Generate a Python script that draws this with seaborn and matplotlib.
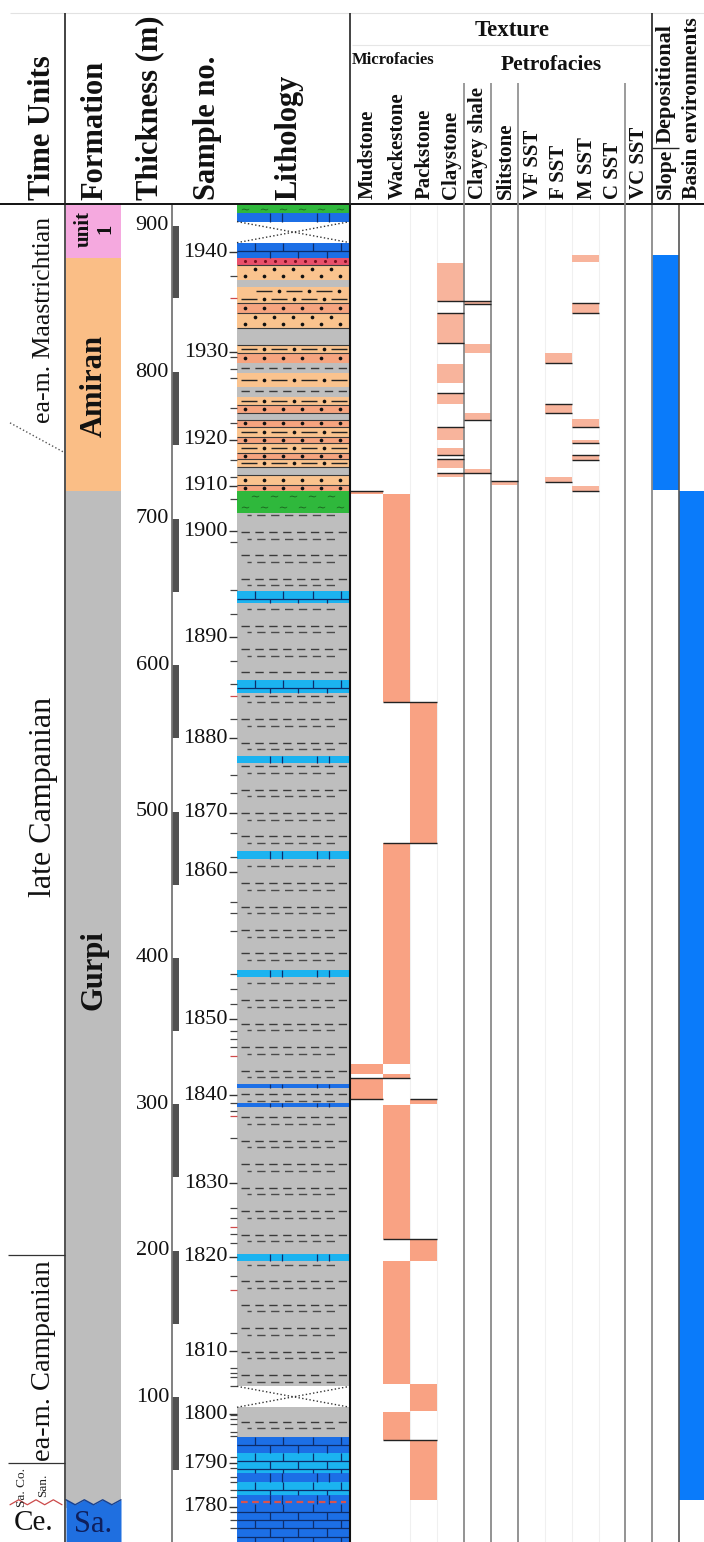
import numpy as np
import pandas as pd
import matplotlib
matplotlib.use("Agg")
import matplotlib.pyplot as plt
import seaborn as sns

# ------------------------------------------------------------------ data
thickness_ticks = [100, 200, 300, 400, 500, 600, 700, 800, 900]

sample_numbers = [1780, 1790, 1800, 1810, 1820, 1830, 1840, 1850, 1860,
                  1870, 1880, 1890, 1900, 1910, 1920, 1930, 1940]
sample_depths = [24.9, 54.9, 88.4, 131.4, 195.7, 246.2, 306.3, 358.2, 458.7,
                 499.0, 550.2, 619.2, 691.6, 722.4, 753.8, 813.9, 882.2]
sample_minor_ticks = [865.9, 810.6, 802.4, 796.3, 775.8, 765.5, 740.3, 728.6,
                      713.6, 684.2, 651.4, 635.0, 602.9, 587.2, 563.3, 525.1,
                      512.8, 485.5, 469.1, 438.4, 430.8, 418.5, 389.0, 378.8,
                      368.5, 350.1, 344.6, 339.1, 300.9, 295.4, 277.0, 229.2,
                      222.3, 211.4, 205.3, 182.7, 143.7, 119.8, 116.4, 113.6,
                      107.5, 87.7, 85.0, 81.6, 76.1, 73.4, 59.0, 51.5, 45.4,
                      42.0, 36.5, 31.7, 21.5, 16.0, 10.5]
sample_minor_red = [850.9, 579.0, 333.0, 292.0, 216.2, 173.2]

sample_bar_top = [900, 800, 700, 600, 500, 400, 300, 200, 100]
sample_bar_base = [851, 750.5, 650, 550, 450, 350, 250, 150, 50]

formation_names = ["unit\n1", "Amiran", "Gurpi", "Sa."]
formation_top = [914.3, 878, 719, 24]
formation_base = [878, 719, 24, 1]
formation_colors = ["#F5A9DF", "#FABE86", "#BDBDBD", "#1F6FE0"]
formation_label_y = [898, 791, 392, 13]
formation_label_size = [15, 22, 22, 22]

time_labels = ["ea-m. Maastrichtian", "late Campanian", "ea-m. Campanian"]
time_label_y = [835.8, 510, 125]
time_label_size = [18.5, 23, 20.5]
time_boundaries = [196.9, 54.9]

# lithology column (top of each layer, metres; each layer ends at the next top)
litho_top = [914.3, 909, 903, 888.6, 878, 873.5, 863, 858, 847.6, 840.7, 830.5,
             818.9, 813, 806.5, 799.7, 790, 783, 778, 772, 767.6, 763, 756, 752,
             745, 741, 735.5, 730, 723, 719, 704, 650.7, 642.5, 590, 581, 538,
             533, 473, 467.5, 391.7, 386.9, 314, 311, 300.7, 298, 198, 193,
             107.3, 93, 73, 61.5, 48, 41.7, 32.8, 29.4, 26.7]
litho_type = ["marl", "lime", "gap", "lime", "red", "sd", "shale", "sdd", "ss",
              "sd", "gray", "sdd", "ss", "shale", "sdd", "shale", "sdd", "ss",
              "gray", "ss", "sdd", "ss", "sdd", "ss", "sdd", "gray", "sd", "ss",
              "marl", "shale", "alime", "shale", "alime", "shale", "alime",
              "shale", "alime", "shale", "alime", "shale", "lime", "shale",
              "lime", "shale", "alime", "shale", "gap", "shale", "lime", "alime",
              "lime", "alime", "lime", "limer", "lime"]
litho_bottom = 1.0

# texture columns: (top, base) intervals in metres
mudstone = [(719, 717), (327.4, 321), (318, 303.5)]
wackestone = [(717, 575), (478.5, 327.4), (321, 318), (299.4, 207.8),
              (192.8, 109), (89.5, 70.4)]
packstone = [(575, 478.5), (303.5, 300), (207.8, 192.8), (109, 90.2),
             (70.4, 29.4)]
claystone = [(875, 849), (840.7, 820), (806, 793), (786, 778.5), (763, 754),
             (748, 743.7), (741, 735), (731.4, 728.6)]
clayey_shale = [(849, 847), (819.5, 813.4), (772, 767.6), (734, 731.4)]
slitstone = [(726, 723)]
vf_sst = []
f_sst = [(813, 806.6), (778.5, 772.4), (728.6, 725)]
m_sst = [(880, 875.6), (847.6, 840.7), (768, 763), (754, 752), (743.7, 740.4),
         (722.5, 719)]
c_sst = []
vc_sst = []
slope_env = [(880.4, 719.8)]
basin_env = [(719, 29.4)]

# black contact lines on the texture columns: (depth, first column, last column)
texture_contacts = [(719, 0, 0), (575, 1, 2), (478.5, 1, 2), (318, 0, 1),
                    (303.5, 0, 0), (303.5, 2, 2), (207.8, 1, 2), (70.4, 1, 2),
                    (849, 3, 4), (847, 4, 4), (840.7, 3, 3), (820, 3, 3),
                    (786, 3, 3), (763, 3, 3), (743.7, 3, 3), (741, 3, 3),
                    (731.4, 3, 4), (767.6, 4, 4), (726, 5, 5), (806.6, 7, 7),
                    (778.5, 7, 7), (772.4, 7, 7), (725, 7, 7), (847.6, 8, 8),
                    (840.7, 8, 8), (763, 8, 8), (752, 8, 8), (743.7, 8, 8),
                    (740.4, 8, 8), (719, 8, 8)]

texture_labels = ["Mudstone", "Wackestone", "Packstone", "Claystone",
                  "Clayey shale", "Slitstone", "VF SST", "F SST", "M SST",
                  "C SST", "VC SST"]

# ------------------------------------------------------------------ layout / style
sns.set_theme(style="white")
plt.rcParams["font.family"] = ["Liberation Serif", "DejaVu Serif"]
plt.rcParams["mathtext.fontset"] = "dejavuserif"

W, H, HEAD = 704, 1542, 205
PX_PER_M, ZERO_PX = 1.4638, 1543.4
Y_TOP = (ZERO_PX - HEAD) / PX_PER_M
Y_BOT = (ZERO_PX - H) / PX_PER_M

X_TIME = (0, 65)
X_FORM = (66, 121)
X_THICK = 172
X_SBAR = (172, 179)
X_STICK = (229, 237)
X_LITH = (237, 350)
TEX_EDGES = [350, 383, 410, 437, 464, 491, 518, 545, 572, 599, 625, 652, 679, 704]

C_TEX_MICRO = "#F9A283"
C_TEX_PETRO = "#F8B49C"
C_ENV = "#0A7BFA"
litho_colors = {"marl": "#2FB83C", "lime": "#1C6FE6", "alime": "#1BB3F0",
                "gap": "#FFFFFF", "red": "#E9506B", "sd": "#FAC38E",
                "sdd": "#FAC38E", "ss": "#F6A47F", "shale": "#BEBEBE",
                "gray": "#BEBEBE", "limer": "#1C6FE6"}

fig = plt.figure(figsize=(W / 100, H / 100), dpi=100, facecolor="white")
ax = fig.add_axes([0, 0, 1, (H - HEAD) / H])
hx = fig.add_axes([0, (H - HEAD) / H, 1, HEAD / H])
for a in (ax, hx):
    a.set_facecolor("white")
    a.axis("off")
ax.set_xlim(0, W)
ax.set_ylim(Y_BOT, Y_TOP)
hx.set_xlim(0, W)
hx.set_ylim(HEAD, 0)

# ------------------------------------------------------------------ formation column
fcx, fw = (X_FORM[0] + X_FORM[1]) / 2, X_FORM[1] - X_FORM[0]
for i in range(3):
    ax.bar(fcx, formation_top[i] - formation_base[i], bottom=formation_base[i],
           width=fw, color=formation_colors[i], linewidth=0, zorder=1)
xw = np.linspace(X_FORM[0], X_FORM[1], 7)
yw = np.where(np.arange(7) % 2 == 0, 29.8, 26.4)
ax.fill_between(xw, Y_BOT, yw, color=formation_colors[3], linewidth=0, zorder=2)
ax.plot(xw, yw, color="#17408f", lw=1, zorder=3)
for i, name in enumerate(formation_names):
    if name == "Sa.":
        ax.text(fcx, formation_label_y[i], name, ha="center", va="center",
                fontsize=22, color="#0f1f5c", zorder=5)
    else:
        ax.text(fcx + 1, formation_label_y[i], name, ha="center", va="center",
                rotation=90, fontsize=formation_label_size[i],
                fontweight="bold", color="#111111", linespacing=1.15, zorder=5)

# ------------------------------------------------------------------ time units column
tcx = 44
for lab, y, fs in zip(time_labels, time_label_y, time_label_size):
    ax.text(tcx, y, lab, rotation=90, ha="center", va="center", fontsize=fs,
            color="#111111")
ax.hlines(time_boundaries, 8, X_TIME[1], color="#333333", lw=0.9)
ax.plot([10, 65], [765.5, 745.0], ls=":", color="#555555", lw=1)
ax.text(22, 38.5, "Sa. Co.", rotation=90, ha="center", va="center",
        fontsize=9.5, color="#222222")
ax.text(43, 40, "San.", rotation=90, ha="center", va="center", fontsize=9.5,
        color="#222222")
xz = np.linspace(10, 62, 7)
ax.plot(xz, np.where(np.arange(7) % 2 == 0, 26.4, 29.8), color="#cc4a4a", lw=0.9)
ax.text(34, 14, "Ce.", ha="center", va="center", fontsize=21, color="#111111")

# ------------------------------------------------------------------ thickness + samples
ax.vlines(X_THICK, Y_BOT, Y_TOP, color="#777777", lw=1.3)
for t in thickness_ticks:
    ax.text(X_THICK - 3, t, str(t), ha="right", va="center", fontsize=16,
            color="#111111")
sbx = (X_SBAR[0] + X_SBAR[1]) / 2
ax.bar(sbx, np.array(sample_bar_top) - np.array(sample_bar_base),
       bottom=sample_bar_base, width=X_SBAR[1] - X_SBAR[0], color="#515151",
       linewidth=0)
for n, d in zip(sample_numbers, sample_depths):
    ax.text(X_STICK[0] - 1, d, str(n), ha="right", va="center", fontsize=16,
            color="#111111")
ax.hlines(sample_depths, X_STICK[0], X_STICK[1], color="#333333", lw=1)
ax.hlines(sample_minor_ticks, X_STICK[0] + 1, X_STICK[1], color="#444444", lw=0.9)
ax.hlines(sample_minor_red, X_STICK[0] + 1, X_STICK[1], color="#d04a4a", lw=0.9)

# ------------------------------------------------------------------ lithology
litho_base = litho_top[1:] + [litho_bottom]
lcx, lw_ = (X_LITH[0] + X_LITH[1]) / 2, X_LITH[1] - X_LITH[0]
ax.bar(lcx, np.array(litho_top) - np.array(litho_base), bottom=litho_base,
       width=lw_, color=[litho_colors[t] for t in litho_type], linewidth=0,
       zorder=1)

dots = []
shale_a, shale_b = [], []
navy = "#0d2d6a"
for top, base, kind in zip(litho_top, litho_base, litho_type):
    h = top - base
    if kind == "shale":
        for k in range(0, 60):
            m1 = 3 + 16 * k
            m2 = m1 - 4.5
            if base + 1.2 < m1 < top - 1.2:
                shale_a.append(m1)
            if base + 1.2 < m2 < top - 1.2:
                shale_b.append(m2)
    elif kind in ("sd", "ss", "marl", "red"):
        nrow = max(1, int(round(h / 6.5)))
        step = 10 if kind == "red" else 19
        for r in range(nrow):
            yy = base + (r + 0.5) * h / nrow
            off = (step / 2) * (r % 2)
            for xx in np.arange(X_LITH[0] + 8 + off, X_LITH[1] - 3, step):
                dots.append((xx, yy, kind))
    elif kind == "sdd":
        nrow = max(1, int(round(h / 6.5)))
        for r in range(nrow):
            yy = base + (r + 0.5) * h / nrow
            starts = np.arange(X_LITH[0] + 4 + 15 * (r % 2), X_LITH[1] - 8, 30)
            ax.hlines(np.full(len(starts), yy), starts,
                      np.minimum(starts + 16, X_LITH[1] - 3), color="#222222",
                      lw=1, zorder=3)
            for s in starts:
                if s + 23 < X_LITH[1] - 3:
                    dots.append((s + 23, yy, "sd"))
    elif kind in ("lime", "alime", "limer"):
        if h < 7:
            ax.vlines([270, 282, 317, 329], base, top, color=navy, lw=0.9,
                      zorder=3)
        else:
            edges = list(np.arange(top, base + 1.5, -5.5)) + [base]
            ax.hlines(edges[1:-1], X_LITH[0], X_LITH[1], color=navy, lw=0.9,
                      zorder=3)
            for i in range(len(edges) - 1):
                xs = [255, 283, 313, 341] if i % 2 == 0 else [270, 298, 327]
                ax.vlines(xs, edges[i + 1], edges[i], color=navy, lw=0.9,
                          zorder=3)
        if kind == "limer":
            ax.hlines((top + base) / 2, X_LITH[0] + 4, X_LITH[1] - 4,
                      color="#d9534f", linestyles=(0, (3, 2)), lw=1.6, zorder=4)
    elif kind == "gap":
        ax.plot([X_LITH[0], X_LITH[1]], [top, base], ls=":", color="#333333",
                lw=1, zorder=3)
        ax.plot([X_LITH[0], X_LITH[1]], [base, top], ls=":", color="#333333",
                lw=1, zorder=3)

ax.hlines(shale_a, X_LITH[0] + 4, X_LITH[1] - 3, colors="#3a3a3a",
          linestyles=(0, (6, 4)), lw=1, zorder=3)
ax.hlines(shale_b, X_LITH[0] + 10, X_LITH[1] - 10, colors="#4a4a4a",
          linestyles=(3, (6, 4)), lw=1, zorder=3)

# contacts inside the Amiran sandstones
sandy = {"sd", "sdd", "ss", "gray", "red"}
for i in range(1, len(litho_top)):
    if litho_type[i] in sandy and litho_type[i - 1] in sandy:
        ax.hlines(litho_top[i], X_LITH[0], X_LITH[1], color="#3a3a3a", lw=0.8,
                  zorder=3)

dot_df = pd.DataFrame(dots, columns=["x", "y", "kind"])
sns.scatterplot(data=dot_df[dot_df.kind.isin(["sd", "ss"])], x="x", y="y",
                ax=ax, color="#111111", s=7, linewidth=0, legend=False,
                zorder=4)
sns.scatterplot(data=dot_df[dot_df.kind == "marl"], x="x", y="y", ax=ax,
                color="#1c6a22", marker=r"$\sim$", s=28, linewidth=0,
                legend=False, zorder=4)
sns.scatterplot(data=dot_df[dot_df.kind == "red"], x="x", y="y", ax=ax,
                color="#7a1020", s=5, linewidth=0, legend=False, zorder=4)

# ------------------------------------------------------------------ texture columns
texture_bars = [mudstone, wackestone, packstone, claystone, clayey_shale,
                slitstone, vf_sst, f_sst, m_sst, c_sst, vc_sst, slope_env,
                basin_env]
for ci, bars in enumerate(texture_bars):
    if not bars:
        continue
    x0, x1 = TEX_EDGES[ci], TEX_EDGES[ci + 1]
    col = C_TEX_MICRO if ci < 3 else (C_TEX_PETRO if ci < 11 else C_ENV)
    tops = np.array([b[0] for b in bars])
    bases = np.array([b[1] for b in bars])
    ax.bar((x0 + x1) / 2, tops - bases, bottom=bases, width=x1 - x0, color=col,
           linewidth=0, zorder=1)
for depth, c0, c1 in texture_contacts:
    ax.hlines(depth, TEX_EDGES[c0], TEX_EDGES[c1 + 1], color="#222222", lw=1,
              zorder=3)

for xv in [410, 437, 545, 572, 599]:
    ax.vlines(xv, Y_BOT, Y_TOP, color="#f0f0f0", lw=0.8, zorder=0)
ax.vlines([464, 491, 518, 625, 652], Y_BOT, Y_TOP, color="#8a8a8a", lw=1.3,
          zorder=2)
ax.vlines(679, Y_BOT, Y_TOP, color="#555555", lw=1.2, zorder=2)
ax.vlines(350, Y_BOT, Y_TOP, color="#111111", lw=1.5, zorder=5)
ax.vlines(65, Y_BOT, Y_TOP, color="#333333", lw=1.2, zorder=5)

# ------------------------------------------------------------------ header
hx.hlines(HEAD - 0.7, 0, W, color="#111111", lw=1.4)
hx.hlines(13, 10, W, color="#e2e2e2", lw=0.8)
hx.vlines([65, 350, 652], 13, HEAD, color="#222222", lw=1.2)
hx.vlines([464, 491, 518, 625], 83, HEAD, color="#8a8a8a", lw=1.2)
hx.hlines(45, 352, 650, color="#e6e6e6", lw=0.8)
hx.hlines(148, 652, 679, color="#222222", lw=1)

for lab, xc, in [("Time Units", 43), ("Formation", 95), ("Thickness (m)", 150),
                 ("Sample no.", 207), ("Lithology", 289)]:
    hx.text(xc, 200, lab, rotation=90, ha="center", va="bottom", fontsize=22,
            fontweight="bold", color="#111111")

hx.text(512, 30, "Texture", ha="center", va="center", fontsize=16.5,
        fontweight="bold", color="#111111")
hx.text(393, 60, "Microfacies", ha="center", va="center", fontsize=12,
        fontweight="bold", color="#111111")
hx.text(551, 65, "Petrofacies", ha="center", va="center", fontsize=15.5,
        fontweight="bold", color="#111111")
for i, lab in enumerate(texture_labels):
    cx = (TEX_EDGES[i] + TEX_EDGES[i + 1]) / 2 + 1
    hx.text(cx, 199, lab, rotation=90, ha="center", va="bottom", fontsize=15,
            fontweight="bold", color="#111111")
hx.text(666, 143, "Depositional", rotation=90, ha="center", va="bottom",
        fontsize=16, fontweight="bold", color="#111111")
hx.text(666, 199, "Slope", rotation=90, ha="center", va="bottom", fontsize=15.5,
        fontweight="bold", color="#111111")
hx.text(692, 199, "Basin environments", rotation=90, ha="center", va="bottom",
        fontsize=15.5, fontweight="bold", color="#111111")

ax.set_xlim(0, W)
ax.set_ylim(Y_BOT, Y_TOP)
fig.savefig("out.png", dpi=100, facecolor="white")
